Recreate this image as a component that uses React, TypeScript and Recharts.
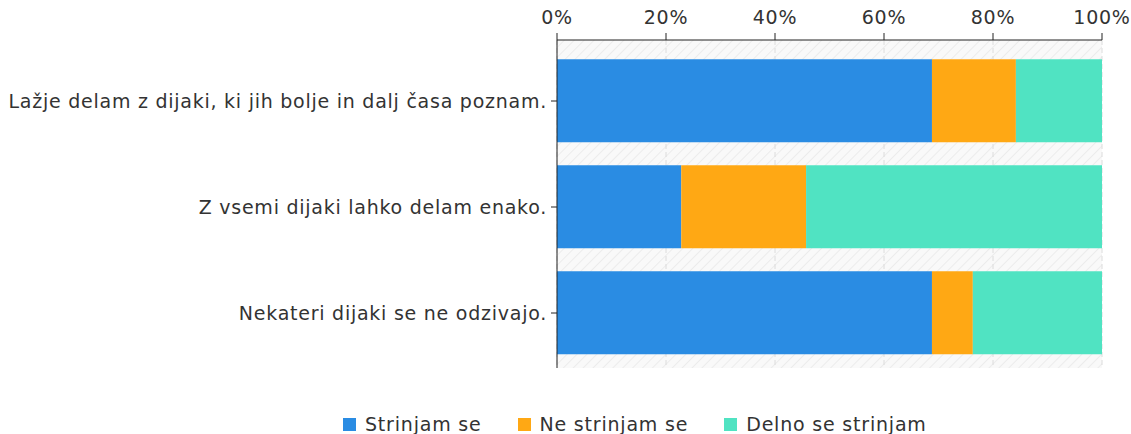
import { BarChart, Bar, XAxis, YAxis, CartesianGrid, Legend } from 'recharts';

const categories = [
  'Lažje delam z dijaki, ki jih bolje in dalj časa poznam.',
  'Z vsemi dijaki lahko delam enako.',
  'Nekateri dijaki se ne odzivajo.',
];
const strinjam = [68.8, 22.8, 68.8];
const neStrinjam = [15.4, 22.9, 7.5];
const delno = [15.8, 54.3, 23.7];
const xTicks = [0, 20, 40, 60, 80, 100];

const series = [
  { key: 'strinjam', name: 'Strinjam se', color: '#2a8ce3' },
  { key: 'neStrinjam', name: 'Ne strinjam se', color: '#ffa814' },
  { key: 'delno', name: 'Delno se strinjam', color: '#50e3c2' },
];

const data = categories.map((name, i) => ({
  name,
  strinjam: strinjam[i],
  neStrinjam: neStrinjam[i],
  delno: delno[i],
}));

const font = 'Verdana, "DejaVu Sans", sans-serif';
const textColor = '#333';
const textStyle = { fill: textColor, fontSize: 19, fontFamily: font, letterSpacing: 0.75 };

function LegendRow() {
  return (
    <div style={{ display: 'flex', justifyContent: 'flex-start', paddingLeft: 343, gap: 36, fontFamily: font, fontSize: 19, letterSpacing: 0.8, color: textColor }}>
      {series.map(s => (
        <div key={s.key} style={{ display: 'flex', alignItems: 'center' }}>
          <span style={{ width: 13, height: 13, background: s.color, display: 'inline-block', marginRight: 9 }} />
          {s.name}
        </div>
      ))}
    </div>
  );
}

export default function App() {
  return (
    <div style={{ position: 'absolute', left: 0, top: 0, width: 1131, height: 434, background: '#fff' }}>
      <svg width={0} height={0} style={{ position: 'absolute' }}>
        <defs>
          <pattern id="hatch" patternUnits="userSpaceOnUse" width={7} height={7} patternTransform="rotate(45)">
            <rect width={7} height={7} fill="#f9f9f9" />
            <line x1={0} y1={0} x2={0} y2={7} stroke="#ececec" strokeWidth={2} />
          </pattern>
        </defs>
      </svg>
      <BarChart
        width={1131}
        height={434}
        data={data}
        layout="vertical"
        margin={{ top: 0, right: 29, bottom: 44, left: 0 }}
        barCategoryGap="10.7%"
      >
        <CartesianGrid horizontal={false} stroke="#dcdcdc" strokeDasharray="5 3" fill="url(#hatch)" />
        <XAxis
          type="number"
          orientation="top"
          domain={[0, 100]}
          ticks={xTicks}
          tickFormatter={v => `${v}%`}
          height={40}
          tickSize={7}
          tickMargin={9}
          axisLine={{ stroke: '#222' }}
          tickLine={{ stroke: '#222' }}
          tick={textStyle}
          interval={0}
        />
        <XAxis
          xAxisId="bottom"
          type="number"
          orientation="bottom"
          domain={[0, 100]}
          height={0}
          tick={false}
          tickLine={false}
          axisLine={{ stroke: '#dcdcdc', strokeDasharray: '5 3' }}
        />
        <YAxis
          type="category"
          dataKey="name"
          width={557}
          padding={{ top: 8, bottom: 2 }}
          tickSize={6}
          tickMargin={4}
          axisLine={{ stroke: '#222' }}
          tickLine={{ stroke: '#222' }}
          tick={textStyle}
        />
        {series.map(s => (
          <Bar key={s.key} dataKey={s.key} name={s.name} stackId="a" fill={s.color} isAnimationActive={false} />
        ))}
        <Legend content={<LegendRow />} wrapperStyle={{ top: 413, left: 0, width: 1131 }} />
      </BarChart>
    </div>
  );
}
